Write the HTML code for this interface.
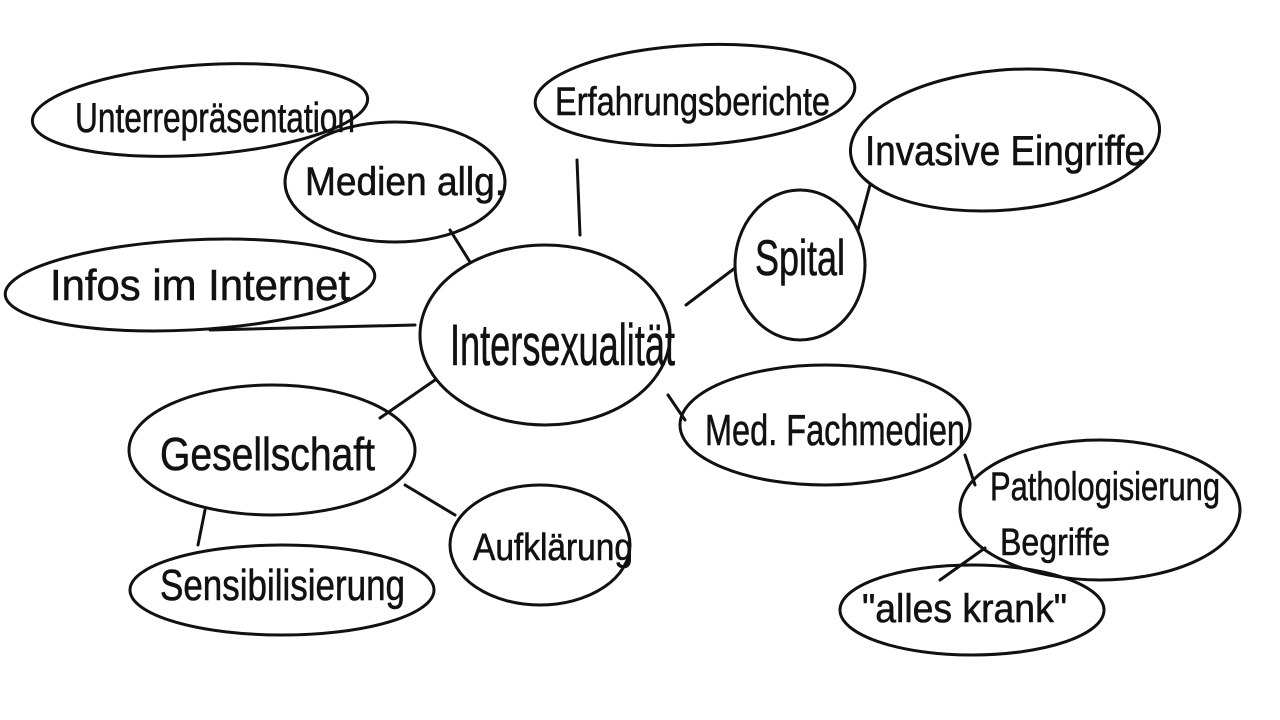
<!DOCTYPE html>
<html><head><meta charset="utf-8"><style>
html,body{margin:0;padding:0;background:#fff;width:1280px;height:720px;overflow:hidden}
svg text{font-family:"Liberation Sans",sans-serif;font-weight:normal;fill:#111;stroke:#111;stroke-width:0.6}
</style></head><body>
<svg width="1280" height="720" viewBox="0 0 1280 720">
<g fill="none" stroke="#111" stroke-width="3" stroke-linecap="round">
<ellipse cx="200" cy="110" rx="168" ry="45" transform="rotate(-4 200 110)"/>
<ellipse cx="395" cy="182" rx="110" ry="60"/>
<ellipse cx="190" cy="285" rx="185" ry="45" transform="rotate(-3 190 285)"/>
<ellipse cx="545" cy="335" rx="125" ry="90"/>
<ellipse cx="695" cy="95" rx="160" ry="50" transform="rotate(-3 695 95)"/>
<ellipse cx="1005" cy="140" rx="155" ry="70" transform="rotate(-5 1005 140)"/>
<ellipse cx="800" cy="265" rx="65" ry="75"/>
<ellipse cx="825" cy="425" rx="145" ry="60"/>
<ellipse cx="272" cy="450" rx="143" ry="65"/>
<ellipse cx="540" cy="545" rx="90" ry="60"/>
<ellipse cx="282" cy="590" rx="152" ry="45"/>
<ellipse cx="1100" cy="510" rx="140" ry="70"/>
<ellipse cx="972" cy="610" rx="132" ry="45"/>
<path d="M577 160 L580 235"/>
<path d="M450 230 L470 262"/>
<path d="M210 330 L415 325"/>
<path d="M686 305 L735 268"/>
<path d="M858 230 L870 185"/>
<path d="M380 418 L435 380"/>
<path d="M405 485 L455 515"/>
<path d="M668 395 L685 420"/>
<path d="M965 455 L975 485"/>
<path d="M205 510 L198 545"/>
<path d="M940 580 L985 548"/>
</g>
<text x="75" y="132" font-size="42" textLength="280" lengthAdjust="spacingAndGlyphs">Unterrepräsentation</text>
<text x="305" y="195" font-size="40" textLength="200" lengthAdjust="spacingAndGlyphs">Medien allg.</text>
<text x="50" y="300" font-size="44" textLength="300" lengthAdjust="spacingAndGlyphs">Infos im Internet</text>
<text x="450" y="365" font-size="58" textLength="225" lengthAdjust="spacingAndGlyphs">Intersexualität</text>
<text x="555" y="115" font-size="40" textLength="275" lengthAdjust="spacingAndGlyphs">Erfahrungsberichte</text>
<text x="865" y="165" font-size="42" textLength="280" lengthAdjust="spacingAndGlyphs">Invasive Eingriffe</text>
<text x="755" y="275" font-size="50" textLength="90" lengthAdjust="spacingAndGlyphs">Spital</text>
<text x="705" y="445" font-size="44" textLength="260" lengthAdjust="spacingAndGlyphs">Med. Fachmedien</text>
<text x="160" y="470" font-size="46" textLength="215" lengthAdjust="spacingAndGlyphs">Gesellschaft</text>
<text x="473" y="560" font-size="38" textLength="160" lengthAdjust="spacingAndGlyphs">Aufklärung</text>
<text x="160" y="600" font-size="44" textLength="245" lengthAdjust="spacingAndGlyphs">Sensibilisierung</text>
<text x="990" y="500" font-size="40" textLength="230" lengthAdjust="spacingAndGlyphs">Pathologisierung</text>
<text x="1000" y="555" font-size="38" textLength="110" lengthAdjust="spacingAndGlyphs">Begriffe</text>
<text x="862" y="622" font-size="40" textLength="205" lengthAdjust="spacingAndGlyphs">"alles krank"</text>
</svg>
</body></html>
